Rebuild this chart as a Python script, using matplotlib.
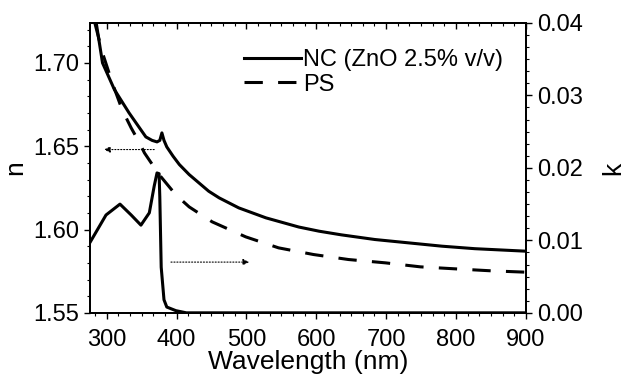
import matplotlib
matplotlib.use('Agg')
import matplotlib.pyplot as plt
from matplotlib.ticker import MultipleLocator, AutoMinorLocator

plt.rcParams['font.family'] = ['Liberation Sans', 'DejaVu Sans']

# refractive index n, NC (ZnO 2.5% v/v)
wl_nc = [285, 294, 311, 332, 346, 356, 365, 372, 376, 379, 382, 386, 395, 404, 418,
         432, 446, 461, 475, 489, 528, 575, 604, 636, 684, 732, 780, 827, 900]
n_nc = [1.724, 1.700, 1.684, 1.670, 1.6616, 1.6556, 1.6535, 1.6526, 1.6535, 1.658,
        1.6535, 1.6496, 1.644, 1.639, 1.633, 1.628, 1.623, 1.619, 1.616, 1.613,
        1.607, 1.6015, 1.599, 1.5968, 1.594, 1.592, 1.590, 1.5885, 1.587]

# refractive index n, PS
wl_ps = [283, 294, 308, 322, 335, 347, 354, 375, 399, 418, 451, 499, 546, 596,
         646, 699, 749, 799, 851, 900]
n_ps = [1.724, 1.706, 1.688, 1.672, 1.661, 1.652, 1.646, 1.633, 1.6208, 1.6136,
        1.6046, 1.5956, 1.589, 1.585, 1.582, 1.580, 1.5776, 1.5764, 1.5752, 1.5744]

# extinction coefficient k, NC
wl_k = [276, 299, 319, 335, 349, 361, 368, 372, 375, 376, 378, 382, 386, 399, 414, 900]
k_nc = [0.0097, 0.0135, 0.0150, 0.0135, 0.0121, 0.0138, 0.0175, 0.0193, 0.0192,
        0.0160, 0.0063, 0.0018, 0.0008, 0.0003, 0.0, 0.0]

fig = plt.figure(figsize=(6.29, 3.76), dpi=100)
ax = fig.add_axes([0.143, 0.168, 0.693, 0.771])
ax2 = ax.twinx()
ax3 = ax.twiny()  # only for the inward ticks on the top edge

ax.plot(wl_nc, n_nc, color='black', lw=2.2, label='NC (ZnO 2.5% v/v)')
ax.plot(wl_ps, n_ps, color='black', lw=2.2, dashes=(6, 5), label='PS')
ax2.plot(wl_k, k_nc, color='black', lw=2.2)

ax.set_xlim(276, 900)
ax.set_ylim(1.55, 1.724)
ax2.set_ylim(0, 0.04)
ax3.set_xlim(ax.get_xlim())

for a in (ax, ax3):
    a.xaxis.set_major_locator(MultipleLocator(100))
    a.xaxis.set_minor_locator(AutoMinorLocator(6))
ax.yaxis.set_major_locator(MultipleLocator(0.05))
ax.yaxis.set_minor_locator(MultipleLocator(0.01))
ax2.yaxis.set_major_locator(MultipleLocator(0.01))
ax2.yaxis.set_minor_locator(AutoMinorLocator(6))
ax.yaxis.set_major_formatter(plt.FormatStrFormatter('%.2f'))
ax2.yaxis.set_major_formatter(plt.FormatStrFormatter('%.2f'))

ax.tick_params(axis='both', which='major', labelsize=17, length=4, width=1, pad=4)
ax.tick_params(axis='both', which='minor', length=2.5, width=0.8)
ax.tick_params(axis='x', which='both', pad=8)
ax2.tick_params(axis='y', which='major', labelsize=17, length=4, width=1, pad=4)
ax2.tick_params(axis='y', which='minor', length=2.5, width=0.8)
ax3.tick_params(axis='x', which='major', direction='in', length=4, width=1, labeltop=False)
ax3.tick_params(axis='x', which='minor', direction='in', length=2.5, width=0.8)

for a in (ax, ax2, ax3):
    for s in a.spines.values():
        s.set_linewidth(1.2)

ax.set_xlabel('Wavelength (nm)', fontsize=19, labelpad=-1)
ax.set_ylabel('n', fontsize=19, labelpad=4)
ax2.set_ylabel('k', fontsize=19, labelpad=13)

# arrows pointing to the axis each curve belongs to
ax.annotate('', xy=(296, 1.648), xytext=(368, 1.648),
            arrowprops=dict(arrowstyle='-|>', linestyle=':', lw=0.8, color='black',
                            mutation_scale=9, shrinkA=0, shrinkB=0))
ax2.annotate('', xy=(504, 0.0070), xytext=(392, 0.0070),
             arrowprops=dict(arrowstyle='-|>', linestyle=':', lw=0.8, color='black',
                             mutation_scale=9, shrinkA=0, shrinkB=0))

ax.legend(loc='upper right', bbox_to_anchor=(0.975, 0.95), frameon=False, fontsize=17,
          handlelength=2.4, handletextpad=0.1, labelspacing=0.1, borderpad=0)

fig.savefig('out.png', dpi=100)
